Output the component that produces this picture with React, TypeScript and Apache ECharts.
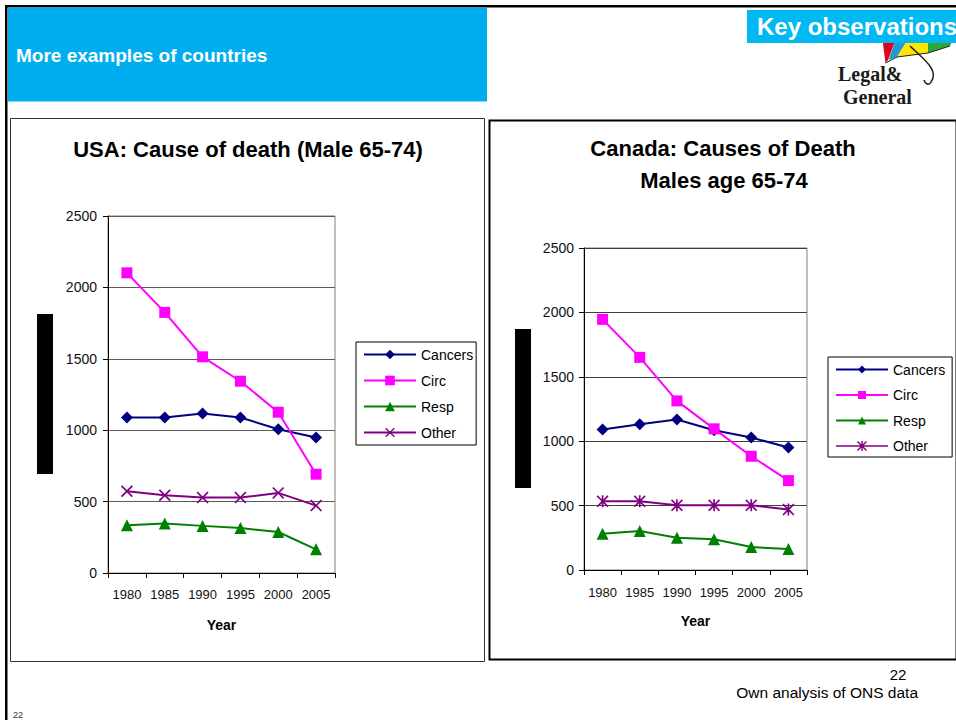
import React, { useEffect, useRef } from "react";
import * as echarts from "echarts";

const years = ["1980", "1985", "1990", "1995", "2000", "2005"];
const seriesNames = ["Cancers", "Circ", "Resp", "Other"];
const usaCancers = [1089, 1089, 1117, 1089, 1007, 949];
const usaCirc = [2102, 1825, 1514, 1343, 1126, 692];
const usaResp = [335, 346, 330, 315, 287, 166];
const usaOther = [572, 544, 528, 528, 561, 472];
const canCancers = [1091, 1132, 1169, 1085, 1029, 951];
const canCirc = [1946, 1651, 1313, 1096, 883, 694];
const canResp = [282, 302, 251, 238, 178, 163];
const canOther = [533, 533, 502, 502, 502, 469];
const yMin = 0;
const yMax = 2500;
const yStep = 500;

const colors = { Cancers: "#000080", Circ: "#FF00FF", Resp: "#008000", Other: "#800080" };
const FONT = "'Liberation Sans', Arial, sans-serif";
const SERIF = "'Liberation Serif', 'DejaVu Serif', serif";
const XSYM = "path://M1,0L5,4L9,0L10,1L6,5L10,9L9,10L5,6L1,10L0,9L4,5L0,1Z";
const STAR =
  "path://M1,0L5,4L9,0L10,1L6,5L10,9L9,10L5,6L1,10L0,9L4,5L0,1Z M4.3,0L5.7,0L5.7,10L4.3,10Z";
const STAR_LEGEND =
  "path://M0,4.2L52,4.2L52,5.8L0,5.8Z M22,0L26,4L30,0L31,1L27,5L31,9L30,10L26,6L22,10L21,9L25,5L21,1Z M25.3,0L26.7,0L26.7,10L25.3,10Z";

function makeSeries(name: string, data: number[], idx: number, symbol: string, size: number) {
  return {
    type: "line",
    name,
    data,
    xAxisIndex: idx,
    yAxisIndex: idx,
    symbol,
    symbolSize: size,
    showAllSymbol: true,
    lineStyle: { color: (colors as any)[name], width: 2 },
    itemStyle: { color: (colors as any)[name] },
    emphasis: { disabled: true },
  };
}

function axisPair(idx: number, labelMarginY: number, labelMarginX: number, nameGap: number, gridColor: string) {
  const x = {
    type: "category",
    gridIndex: idx,
    data: years,
    boundaryGap: true,
    axisLine: { show: true, lineStyle: { color: "#000", width: 1 } },
    axisTick: { show: true, length: 5, alignWithLabel: false, interval: 0, lineStyle: { color: "#000" } },
    axisLabel: { interval: 0, fontSize: 13, color: "#111", fontFamily: FONT, margin: labelMarginX },
    splitLine: { show: false },
    name: "Year",
    nameLocation: "middle",
    nameGap,
    nameTextStyle: { fontSize: 14, fontWeight: "bold", color: "#000", fontFamily: FONT },
  };
  const y = {
    type: "value",
    gridIndex: idx,
    min: yMin,
    max: yMax,
    interval: yStep,
    axisLine: { show: true, lineStyle: { color: "#000", width: 1 } },
    axisTick: { show: true, length: 5, lineStyle: { color: "#000" } },
    axisLabel: {
      fontSize: 14,
      color: "#111",
      fontFamily: FONT,
      margin: labelMarginY,
      formatter: (v: number) => String(v),
    },
    splitLine: { show: true, lineStyle: { color: gridColor, width: 1 } },
  };
  return { x, y };
}

export default function App() {
  const ref = useRef<HTMLDivElement>(null);
  useEffect(() => {
    document.body.style.margin = "0";
    if (!ref.current) return;
    const chart = echarts.init(ref.current, undefined, { renderer: "svg" });
    const a0 = axisPair(0, 11, 15, 45, "#5a5a5a");
    const a1 = axisPair(1, 10, 16, 44, "#404040");
    const legendText = { fontSize: 14, color: "#000", fontFamily: FONT };
    const option: any = {
      animation: false,
      backgroundColor: "#fff",
      grid: [
        { left: 108, top: 216, width: 227, height: 357, show: true, borderColor: "#808080", borderWidth: 1, backgroundColor: "transparent" },
        { left: 584, top: 248, width: 223, height: 322, show: true, borderColor: "#808080", borderWidth: 1, backgroundColor: "transparent" },
      ],
      xAxis: [a0.x, a1.x],
      yAxis: [a0.y, a1.y],
      legend: [
        {
          orient: "vertical",
          left: 356,
          top: 342,
          data: seriesNames,
          itemWidth: 52,
          itemHeight: 12,
          itemGap: 12,
          padding: [5.5, 3, 5.5, 7],
          borderColor: "#000",
          borderWidth: 1,
          textStyle: legendText,
          selectedMode: false,
        },
        {
          orient: "vertical",
          left: 828,
          top: 357,
          data: ["Cancers", "Circ", "Resp", { name: "Other", icon: STAR_LEGEND }],
          itemWidth: 52,
          itemHeight: 10,
          itemGap: 11.5,
          padding: [5.5, 7, 4, 7],
          borderColor: "#000",
          borderWidth: 1,
          textStyle: legendText,
          selectedMode: false,
        },
      ],
      series: [
        makeSeries("Cancers", usaCancers, 0, "diamond", 12),
        makeSeries("Circ", usaCirc, 0, "rect", 11),
        makeSeries("Resp", usaResp, 0, "triangle", 12),
        makeSeries("Other", usaOther, 0, XSYM, 12),
        makeSeries("Cancers", canCancers, 1, "diamond", 12),
        makeSeries("Circ", canCirc, 1, "rect", 11),
        makeSeries("Resp", canResp, 1, "triangle", 12),
        makeSeries("Other", canOther, 1, STAR, 12),
      ],
      graphic: [
        // page frame
        { type: "rect", shape: { x: 5, y: 5, width: 951, height: 2.5 }, style: { fill: "#000" } },
        { type: "rect", shape: { x: 5, y: 5, width: 2.5, height: 715 }, style: { fill: "#000" } },
        // header
        { type: "rect", shape: { x: 8, y: 7.5, width: 479, height: 94 }, style: { fill: "#00AEEF" } },
        {
          type: "text",
          x: 16,
          y: 55,
          style: { text: "More examples of countries", fill: "#fff", fontSize: 19, fontWeight: "bold", fontFamily: FONT, align: "left", verticalAlign: "middle" },
        },
        // umbrella logo
        { type: "polygon", shape: { points: [[882, 36], [897, 36], [888, 60], [885.5, 63]] }, style: { fill: "#E2001A" } },
        { type: "polygon", shape: { points: [[897, 36], [910, 36], [897, 57], [888.5, 60]] }, style: { fill: "#1E9BD7" } },
        { type: "polygon", shape: { points: [[910, 36], [928, 36], [928, 53], [897, 57]] }, style: { fill: "#FFE500" } },
        { type: "polygon", shape: { points: [[928, 36], [954, 36], [950, 46], [928, 53]] }, style: { fill: "#2DA836" } },
        { type: "polyline", shape: { points: [[885.5, 63], [897, 57], [928, 53], [950, 46]] }, style: { stroke: "#222", lineWidth: 1, fill: "none" } },
        { type: "bezierCurve", shape: { x1: 910, y1: 46, x2: 931, y2: 82, cpx1: 922, cpy1: 58, cpx2: 940, cpy2: 70 }, style: { stroke: "#222", lineWidth: 1.5, fill: "none" } },
        { type: "bezierCurve", shape: { x1: 931, y1: 82, x2: 924, y2: 80, cpx1: 929, cpy1: 86, cpx2: 925, cpy2: 84 }, style: { stroke: "#222", lineWidth: 1.5, fill: "none" } },
        {
          type: "text",
          x: 838,
          y: 74,
          style: { text: "Legal&", fill: "#1a1a1a", fontSize: 20, fontWeight: "bold", fontFamily: SERIF, align: "left", verticalAlign: "middle" },
        },
        {
          type: "text",
          x: 843,
          y: 96.5,
          style: { text: "General", fill: "#1a1a1a", fontSize: 20, fontWeight: "bold", fontFamily: SERIF, align: "left", verticalAlign: "middle" },
        },
        // key observations
        { type: "rect", shape: { x: 747, y: 10, width: 209, height: 33 }, style: { fill: "#00B9F2" } },
        {
          type: "text",
          x: 757,
          y: 26.5,
          style: { text: "Key observations", fill: "#fff", fontSize: 24, fontWeight: "bold", fontFamily: FONT, align: "left", verticalAlign: "middle" },
        },
        // chart boxes
        { type: "rect", shape: { x: 10.5, y: 118.5, width: 474, height: 543 }, style: { fill: "none", stroke: "#333", lineWidth: 1 } },
        { type: "rect", shape: { x: 489.5, y: 120.5, width: 467, height: 539 }, style: { fill: "none", stroke: "#000", lineWidth: 2 } },
        // titles
        {
          type: "text",
          x: 248,
          y: 149,
          style: { text: "USA: Cause of death (Male 65-74)", fill: "#000", fontSize: 22, fontWeight: "bold", fontFamily: FONT, align: "center", verticalAlign: "middle" },
        },
        {
          type: "text",
          x: 723,
          y: 148,
          style: { text: "Canada: Causes of Death", fill: "#000", fontSize: 22, fontWeight: "bold", fontFamily: FONT, align: "center", verticalAlign: "middle" },
        },
        {
          type: "text",
          x: 724,
          y: 180,
          style: { text: "Males age 65-74", fill: "#000", fontSize: 22, fontWeight: "bold", fontFamily: FONT, align: "center", verticalAlign: "middle" },
        },
        // redaction bars
        { type: "rect", shape: { x: 37, y: 314, width: 16, height: 160 }, style: { fill: "#000" } },
        { type: "rect", shape: { x: 515, y: 329, width: 16, height: 159 }, style: { fill: "#000" } },
        // footer
        {
          type: "text",
          x: 898,
          y: 674,
          style: { text: "22", fill: "#000", fontSize: 15, fontFamily: FONT, align: "center", verticalAlign: "middle" },
        },
        {
          type: "text",
          x: 918,
          y: 692,
          style: { text: "Own analysis of ONS data", fill: "#000", fontSize: 15.5, fontFamily: FONT, align: "right", verticalAlign: "middle" },
        },
        {
          type: "text",
          x: 13,
          y: 715,
          style: { text: "22", fill: "#333", fontSize: 9, fontFamily: FONT, align: "left", verticalAlign: "middle" },
        },
      ],
    };
    chart.setOption(option);
    return () => chart.dispose();
  }, []);
  return <div ref={ref} style={{ width: 956, height: 720 }} />;
}
